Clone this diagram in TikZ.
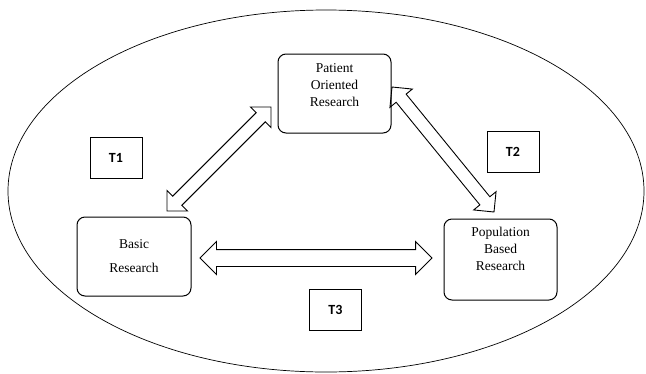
\documentclass[tikz,border=0pt]{standalone}
\usepackage{fontspec}
\setmainfont{Liberation Serif}
\newfontfamily\labfont{Carlito}
\usetikzlibrary{shapes.arrows,calc}

\begin{document}
\begin{tikzpicture}[x=1pt,y=-1pt,
    rnode/.style={draw,rounded corners=8pt,line width=1pt,minimum width=113pt,minimum height=79pt},
    rtext/.style={align=center,inner sep=0pt,font=\fontsize{13.5}{17}\selectfont},
    tnode/.style={draw,line width=1pt,minimum width=52pt,minimum height=41pt,font=\labfont\bfseries\fontsize{14}{16}\selectfont},
    darrow/.style={draw,double arrow,line width=0.9pt,inner xsep=0pt,inner ysep=#1,double arrow head extend=8pt},
    darrow/.default=6pt]
    \useasboundingbox (0,0) rectangle (646,373);
    \draw[line width=0.7pt] (326,191) ellipse [x radius=318pt, y radius=181pt];

    \node[rnode] (por) at (334.5,93.5) {};
    \node[rtext] (port) at (334.5,85) {Patient\\Oriented\\Research};
    \node[rnode,minimum width=114pt] (br) at (134,256.5) {};
    \node[rtext] (brt) at (134,256) {Basic\\[7pt]Research};
    \node[rnode,minimum height=81pt] (pbr) at (500.5,259.5) {};
    \node[rtext] (pbrt) at (500.5,248.5) {Population\\Based\\Research};

    \node[tnode] (t1) at (116,157.5) {T1};
    \node[tnode] (t2) at (513,151.5) {T2};
    \node[tnode] (t3) at (335.5,309.5) {T3};

    \coordinate (a1) at (167,211);
    \coordinate (a2) at (271,107);
    \coordinate (b1) at (392,87);
    \coordinate (b2) at (494,212);
    \coordinate (c1) at (200,258);
    \coordinate (c2) at (432,258);

    \path let \p1=($(a2)-(a1)$), \n1={veclen(\x1,\y1)} in
        (a1) -- node[darrow,sloped,minimum height=\n1] (arr1) {} (a2);
    \path let \p1=($(b2)-(b1)$), \n1={veclen(\x1,\y1)} in
        (b1) -- node[darrow,sloped,minimum height=\n1] (arr2) {} (b2);
    \path let \p1=($(c2)-(c1)$), \n1={veclen(\x1,\y1)} in
        (c1) -- node[darrow=8pt,sloped,minimum height=\n1] (arr3) {} (c2);
\end{tikzpicture}
\end{document}
